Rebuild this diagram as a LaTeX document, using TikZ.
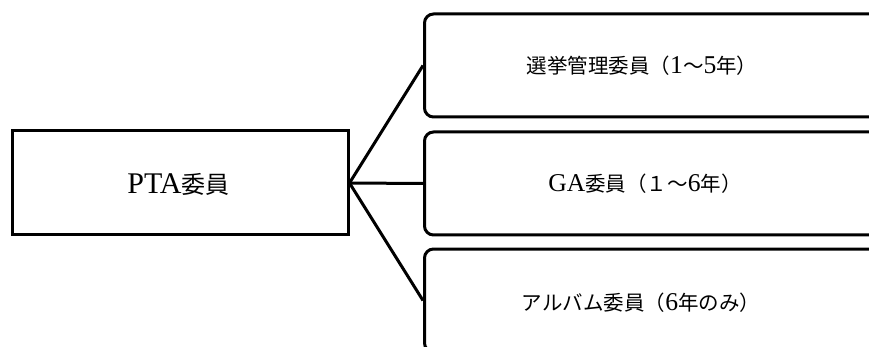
\documentclass[tikz,border=0pt]{standalone}
\usepackage{fontspec}
\setmainfont[Scale=1.25]{Liberation Serif}
\newfontfamily\cjk{Noto Sans CJK JP}
\newcommand{\jp}[1]{{\cjk #1}}
\begin{document}
\begin{tikzpicture}[x=1pt,y=-1pt,
  box/.style={draw=black,line width=3pt,fill=white,inner sep=0pt},
  rbox/.style={box,rounded corners=9pt,minimum width=470pt,minimum height=103pt,anchor=west},
  lbl/.style={font=\fontsize{20.5}{24}\selectfont,inner sep=0pt},
  conn/.style={line width=3pt}]
\useasboundingbox (0,0) rectangle (869,347);
\clip (0,0) rectangle (869,347);
\node[box,minimum width=336pt,minimum height=104pt] (pta) at (180,183) {};
\node[lbl,font=\fontsize{24}{28}\selectfont] (ptat) at (178.5,184) {PTA\jp{委員}};
\node[rbox] (b1) at (423,65.5) {};
\node[rbox] (b2) at (423,183.5) {};
\node[rbox] (b3) at (423,300.5) {};
\node[lbl] (t1) at (642,66) {\jp{選挙管理委員（}1\jp{～}5\jp{年）}};
\node[lbl] (t2) at (645,184) {GA\jp{委員（１～}6\jp{年）}};
\node[lbl] (t3) at (641,303) {\jp{アルバム委員（}6\jp{年のみ）}};
\draw[conn] (pta.east) -- (b1.west);
\draw[conn] (pta.east) -- (b2.west);
\draw[conn] (pta.east) -- (b3.west);
\end{tikzpicture}
\end{document}
